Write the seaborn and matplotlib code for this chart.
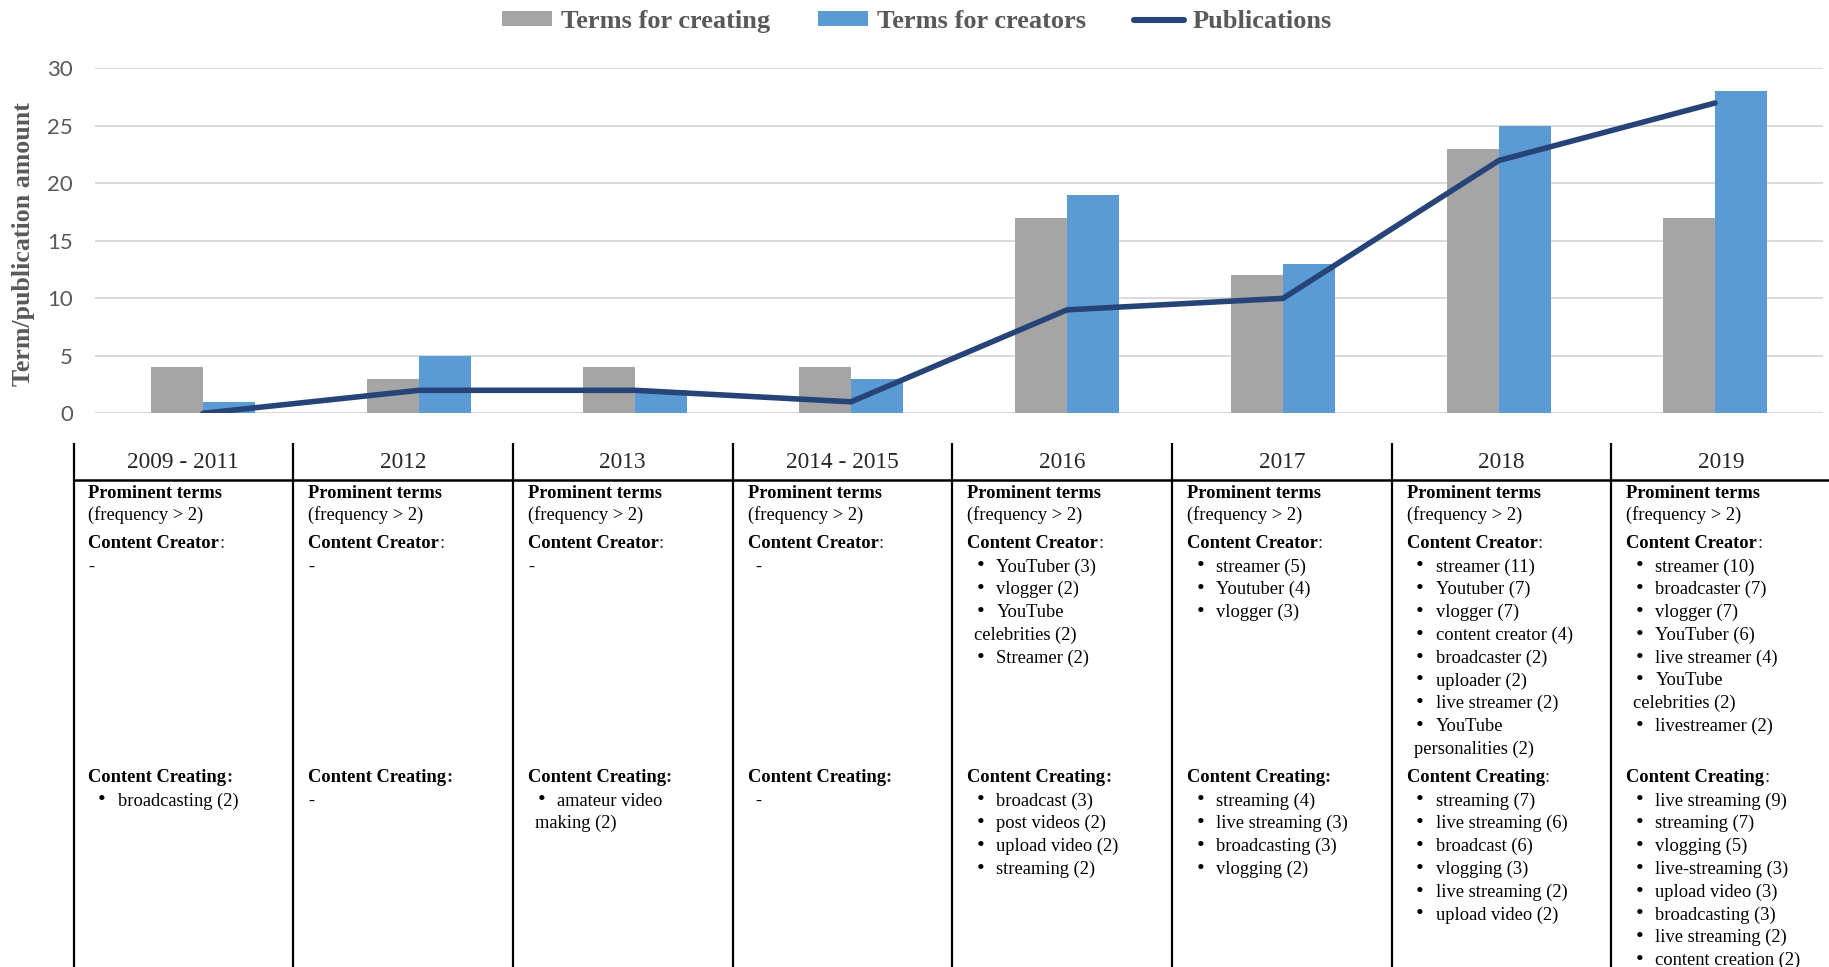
import numpy as np
import pandas as pd
import seaborn as sns
import matplotlib.pyplot as plt
from matplotlib.lines import Line2D
from matplotlib.patches import Patch

# ---- data -------------------------------------------------------------
periods = ["2009 - 2011", "2012", "2013", "2014 - 2015", "2016", "2017", "2018", "2019"]
terms_creating = [4, 3, 4, 4, 17, 12, 23, 17]
terms_creators = [1, 5, 2, 3, 19, 13, 25, 28]
publications = [0, 2, 2, 1, 9, 10, 22, 27]

creator_terms = [
    [], [], [], [],
    ["YouTuber (3)", "vlogger (2)", "YouTube\ncelebrities (2)", "Streamer (2)"],
    ["streamer (5)", "Youtuber (4)", "vlogger (3)"],
    ["streamer (11)", "Youtuber (7)", "vlogger (7)", "content creator (4)",
     "broadcaster (2)", "uploader (2)", "live streamer (2)", "YouTube\npersonalities (2)"],
    ["streamer (10)", "broadcaster (7)", "vlogger (7)", "YouTuber (6)",
     "live streamer (4)", "YouTube\ncelebrities (2)", "livestreamer (2)"],
]
creating_terms = [
    ["broadcasting (2)"], [], ["amateur video\nmaking (2)"], [],
    ["broadcast (3)", "post videos (2)", "upload video (2)", "streaming (2)"],
    ["streaming (4)", "live streaming (3)", "broadcasting (3)", "vlogging (2)"],
    ["streaming (7)", "live streaming (6)", "broadcast (6)", "vlogging (3)",
     "live streaming (2)", "upload video (2)"],
    ["live streaming (9)", "streaming (7)", "vlogging (5)", "live-streaming (3)",
     "upload video (3)", "broadcasting (3)", "live streaming (2)", "content creation (2)"],
]
creating_colon_bold = [True, True, True, True, True, True, False, False]

series_names = ["Terms for creating", "Terms for creators"]
GRAY = "#A5A5A5"
BLUE = "#5B9BD5"
NAVY = "#264478"
TXT_GRAY = "#595959"

# ---- figure -------------------------------------------------------------
sns.set_theme(style="white")
plt.rcParams["font.family"] = ["Liberation Serif", "DejaVu Sans"]

W, H = 1829, 967
fig = plt.figure(figsize=(W / 100, H / 100), dpi=100)
ax = fig.add_axes([95 / W, 1 - 413.3 / H, 1728 / W, 344.8 / H])

df = pd.DataFrame({
    "period": periods * 2,
    "value": terms_creating + terms_creators,
    "series": [series_names[0]] * len(periods) + [series_names[1]] * len(periods),
})
sns.barplot(data=df, x="period", y="value", hue="series", hue_order=series_names,
            palette=[GRAY, BLUE], width=0.477, gap=0, saturation=1,
            errorbar=None, linewidth=0, ax=ax, zorder=2)
sns.lineplot(x=periods, y=publications, sort=False, ax=ax, color=NAVY,
             linewidth=4.0, solid_capstyle="round", label="Publications", zorder=3)

ax.set_xlim(-0.5, len(periods) - 0.5)
ax.set_ylim(0, 30)
ax.set_yticks(range(0, 31, 5))
ax.set_axisbelow(True)
ax.yaxis.grid(True, color="#D9D9D9", linewidth=1.4)
ax.xaxis.grid(False)
for s in ax.spines.values():
    s.set_visible(False)
ax.set_xticks([])
ax.set_xlabel("")
ax.tick_params(axis="y", length=0, pad=16, labelsize=16, labelcolor=TXT_GRAY)
for lbl in ax.get_yticklabels():
    lbl.set_fontfamily("Lato")
ax.set_ylabel("Term/publication amount", fontsize=18.6, fontweight="bold",
              color=TXT_GRAY, family="Liberation Serif", va="center")
ax.yaxis.set_label_coords((23.5 - 95) / 1728, 0.49)
if ax.get_legend() is not None:
    ax.get_legend().remove()

handles = [Patch(facecolor=GRAY, edgecolor="none"),
           Patch(facecolor=BLUE, edgecolor="none"),
           Line2D([], [], color=NAVY, linewidth=4.4, solid_capstyle="round")]
fig.legend(handles, series_names + ["Publications"], loc="center",
           bbox_to_anchor=(917 / W, 1 - 21.5 / H), ncol=3, frameon=False,
           prop={"family": "Liberation Serif", "weight": "bold", "size": 19},
           labelcolor=TXT_GRAY, handlelength=1.9, handleheight=0.5,
           handletextpad=0.35, columnspacing=1.8)

# ---- term table beneath the chart --------------------------------------
tab = fig.add_axes([0, 0, 1, 1])
tab.set_xlim(0, W)
tab.set_ylim(H, 0)
tab.axis("off")

col0, colw = 73.5, 219.7
line_h = 22.8
dy = 2
body = dict(fontsize=13.3, color="black", va="center", ha="left")
bullet = dict(fontsize=16, color="black", va="center", ha="left")

tab.plot([col0, W], [479.5, 479.5], color="black", lw=1.8, solid_capstyle="butt")
for i, period in enumerate(periods):
    xl = col0 + i * colw
    tab.plot([xl, xl], [443, H], color="black", lw=1.6, solid_capstyle="butt")
    tab.text(xl + colw / 2, 462, period, fontsize=16.8, ha="center", va="center")

    tab.text(xl + 15, 491 + dy, "Prominent terms", fontweight="bold", **body)
    tab.text(xl + 15, 513 + dy, "(frequency > 2)", **body)

    t = tab.text(xl + 15, 542 + dy, "Content Creator", fontweight="bold", **body)
    tab.annotate(":", xy=(1, 0), xycoords=t, va="bottom", ha="left",
                 fontsize=13.3)

    def draw_list(items, y0, dash_dx):
        if not items:
            tab.text(xl + dash_dx, y0, "-", **body)
            return
        y = y0
        for item in items:
            parts = item.split("\n")
            tab.text(xl + 24.5, y, "•", **bullet)
            tab.text(xl + 44, y, parts[0], **body)
            for extra in parts[1:]:
                y += line_h
                tab.text(xl + 22, y, extra, **body)
            y += line_h

    dash_dx = 23 if i == 3 else 15
    draw_list(creator_terms[i], 565 + dy, dash_dx)

    t2 = tab.text(xl + 15, 775 + dy, "Content Creating", fontweight="bold", **body)
    tab.annotate(":", xy=(1, 0), xycoords=t2, va="bottom", ha="left",
                 fontsize=13.3,
                 fontweight="bold" if creating_colon_bold[i] else "normal")
    draw_list(creating_terms[i], 799 + dy, dash_dx)

fig.savefig("out.png", dpi=100)
